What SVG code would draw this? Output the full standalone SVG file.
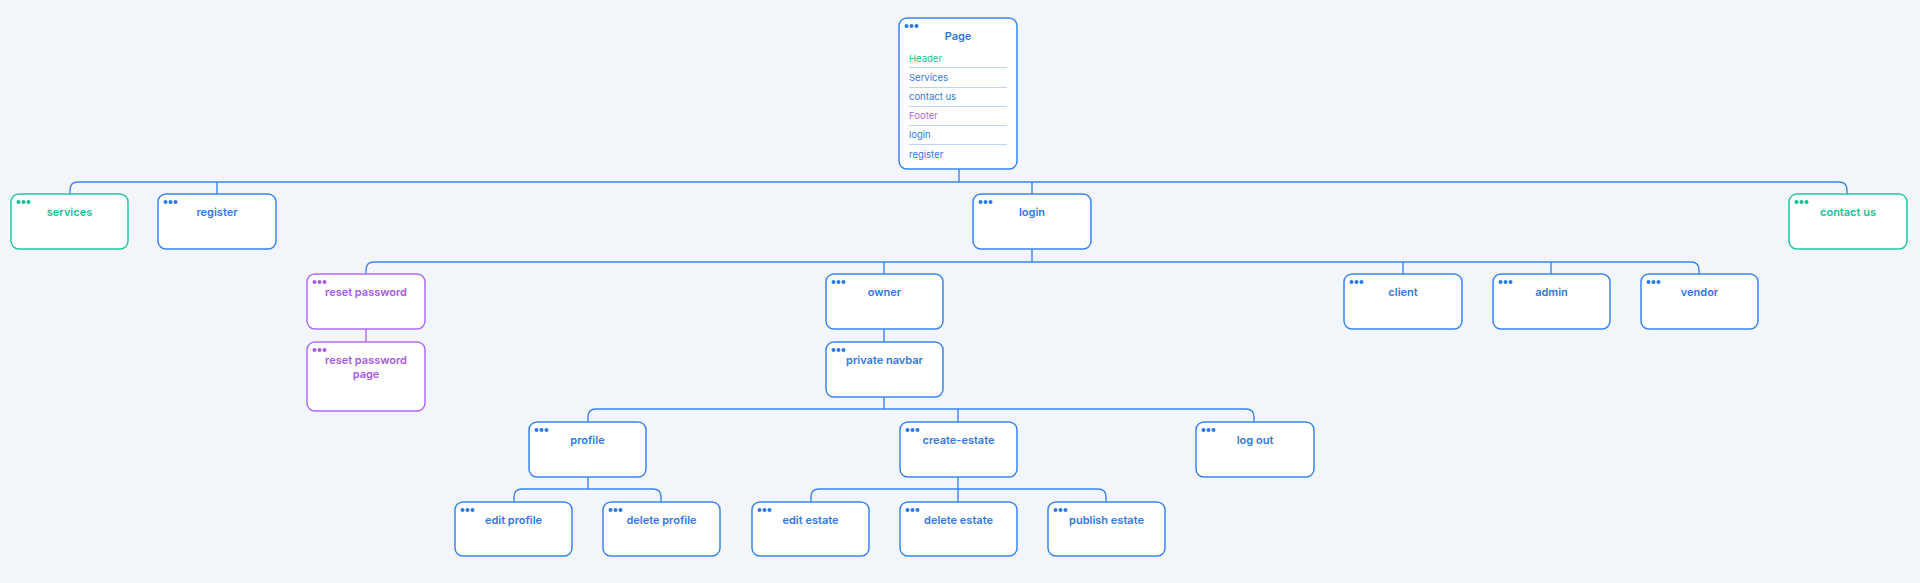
<svg xmlns="http://www.w3.org/2000/svg" width="1920" height="583" viewBox="0 0 1920 583">
<style>
.bg{fill:#f2f5fa}
.box{fill:#fff;stroke:#3b84ef;stroke-width:1.5}
.box.g{stroke:#1fc8a2}
.box.p{stroke:#b36cef}
.dot{fill:#2f78e4}
.g .dot{fill:#14bf95}
.p .dot{fill:#a75ae6}
.t{font-family:Inter,"Noto Sans","Liberation Sans",sans-serif;font-weight:600;font-size:11px;fill:#2f78e4;text-anchor:middle}
.tg{fill:#17c196}
.tp{fill:#a75ae6}
.it{font-family:Inter,"Noto Sans","Liberation Sans",sans-serif;font-size:9.5px;fill:#2f78e4}
.sep{stroke:#bcd3f3;stroke-width:1}
.c{fill:none;stroke:#3b84ef;stroke-width:1.4}
.cp{fill:none;stroke:#b36cef;stroke-width:1.4}
</style>
<defs>
<g id="dots"><circle cx="7.5" cy="8" r="2"/><circle cx="12.5" cy="8" r="2"/><circle cx="17.5" cy="8" r="2"/></g>
</defs>
<rect class="bg" width="1920" height="583"/>
<g id="connectors">
<path class="c" d="M959 169V182"/>
<path class="c" d="M70 194V190Q70 182 78 182H1839Q1847 182 1847 190V194"/>
<path class="c" d="M217 182V194M1032 182V194"/>
<path class="c" d="M1032 249V262"/>
<path class="c" d="M366 274V270Q366 262 374 262H1691Q1699 262 1699 270V274"/>
<path class="c" d="M884 262V274M1403 262V274M1551 262V274"/>
<path class="cp" d="M366 329V342"/>
<path class="c" d="M884 329V342"/>
<path class="c" d="M884 397V409"/>
<path class="c" d="M588 422V417Q588 409 596 409H1246Q1254 409 1254 417V422"/>
<path class="c" d="M958 409V422"/>
<path class="c" d="M588 477V489"/>
<path class="c" d="M514 502V497Q514 489 522 489H653Q661 489 661 497V502"/>
<path class="c" d="M958 477V502"/>
<path class="c" d="M811 502V497Q811 489 819 489H1098Q1106 489 1106 497V502"/>
</g>
<g id="page" transform="translate(899 18)">
<rect class="box" width="118" height="151" rx="8"/>
<use href="#dots" class="dot"/>
<text class="t" x="59" y="22">Page</text>
<text class="it" x="10" y="61.5" style="fill:#17c196" transform="translate(0 -18)">Header</text>
<line class="sep" x1="10" y1="49.5" x2="108" y2="49.5"/>
<text class="it" x="10" y="62.5">Services</text>
<line class="sep" x1="10" y1="69.5" x2="108" y2="69.5"/>
<text class="it" x="10" y="82">contact us</text>
<line class="sep" x1="10" y1="88.5" x2="108" y2="88.5"/>
<text class="it" x="10" y="101" style="fill:#b066ec">Footer</text>
<line class="sep" x1="10" y1="107.5" x2="108" y2="107.5"/>
<text class="it" x="10" y="120">login</text>
<line class="sep" x1="10" y1="126.5" x2="108" y2="126.5"/>
<text class="it" x="10" y="139.5">register</text>
</g>
<g id="services" class="g" transform="translate(11 194)">
<rect class="box g" width="117" height="55" rx="8"/>
<use href="#dots" class="dot"/>
<text class="t tg" x="58.5" y="22">services</text>
</g>
<g id="register" transform="translate(158 194)">
<rect class="box" width="118" height="55" rx="8"/>
<use href="#dots" class="dot"/>
<text class="t" x="59" y="22">register</text>
</g>
<g id="login" transform="translate(973 194)">
<rect class="box" width="118" height="55" rx="8"/>
<use href="#dots" class="dot"/>
<text class="t" x="59" y="22">login</text>
</g>
<g id="contact-us" class="g" transform="translate(1789 194)">
<rect class="box g" width="118" height="55" rx="8"/>
<use href="#dots" class="dot"/>
<text class="t tg" x="59" y="22">contact us</text>
</g>
<g id="reset-password" class="p" transform="translate(307 274)">
<rect class="box p" width="118" height="55" rx="8"/>
<use href="#dots" class="dot"/>
<text class="t tp" x="59" y="22">reset password</text>
</g>
<g id="reset-password-page" class="p" transform="translate(307 342)">
<rect class="box p" width="118" height="69" rx="8"/>
<use href="#dots" class="dot"/>
<text class="t tp" x="59" y="22">reset password</text>
<text class="t tp" x="59" y="35.5">page</text>
</g>
<g id="owner" transform="translate(826 274)">
<rect class="box" width="117" height="55" rx="8"/>
<use href="#dots" class="dot"/>
<text class="t" x="58.5" y="22">owner</text>
</g>
<g id="client" transform="translate(1344 274)">
<rect class="box" width="118" height="55" rx="8"/>
<use href="#dots" class="dot"/>
<text class="t" x="59" y="22">client</text>
</g>
<g id="admin" transform="translate(1493 274)">
<rect class="box" width="117" height="55" rx="8"/>
<use href="#dots" class="dot"/>
<text class="t" x="58.5" y="22">admin</text>
</g>
<g id="vendor" transform="translate(1641 274)">
<rect class="box" width="117" height="55" rx="8"/>
<use href="#dots" class="dot"/>
<text class="t" x="58.5" y="22">vendor</text>
</g>
<g id="private-navbar" transform="translate(826 342)">
<rect class="box" width="117" height="55" rx="8"/>
<use href="#dots" class="dot"/>
<text class="t" x="58.5" y="22">private navbar</text>
</g>
<g id="profile" transform="translate(529 422)">
<rect class="box" width="117" height="55" rx="8"/>
<use href="#dots" class="dot"/>
<text class="t" x="58.5" y="22">profile</text>
</g>
<g id="create-estate" transform="translate(900 422)">
<rect class="box" width="117" height="55" rx="8"/>
<use href="#dots" class="dot"/>
<text class="t" x="58.5" y="22">create-estate</text>
</g>
<g id="log-out" transform="translate(1196 422)">
<rect class="box" width="118" height="55" rx="8"/>
<use href="#dots" class="dot"/>
<text class="t" x="59" y="22">log out</text>
</g>
<g id="edit-profile" transform="translate(455 502)">
<rect class="box" width="117" height="54" rx="8"/>
<use href="#dots" class="dot"/>
<text class="t" x="58.5" y="22">edit profile</text>
</g>
<g id="delete-profile" transform="translate(603 502)">
<rect class="box" width="117" height="54" rx="8"/>
<use href="#dots" class="dot"/>
<text class="t" x="58.5" y="22">delete profile</text>
</g>
<g id="edit-estate" transform="translate(752 502)">
<rect class="box" width="117" height="54" rx="8"/>
<use href="#dots" class="dot"/>
<text class="t" x="58.5" y="22">edit estate</text>
</g>
<g id="delete-estate" transform="translate(900 502)">
<rect class="box" width="117" height="54" rx="8"/>
<use href="#dots" class="dot"/>
<text class="t" x="58.5" y="22">delete estate</text>
</g>
<g id="publish-estate" transform="translate(1048 502)">
<rect class="box" width="117" height="54" rx="8"/>
<use href="#dots" class="dot"/>
<text class="t" x="58.5" y="22">publish estate</text>
</g>
</svg>
